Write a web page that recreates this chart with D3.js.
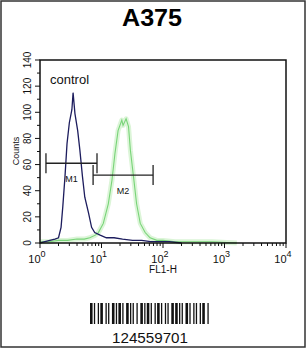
<!DOCTYPE html>
<html><head><meta charset="utf-8">
<script src="https://cdn.jsdelivr.net/npm/d3@7"></script>
<style>body{margin:0;background:#fff}svg{display:block}</style>
</head><body>
<svg id="c" width="306" height="349"></svg>
<script>
const title = "A375";
const yTicks = [0,20,40,60,80,100,120,140];
const xDecades = [1,10,100,1000,10000];
const xExps = ["0","1","2","3","4"];
const controlFL = [1.0,1.2,1.45,1.75,2.0,2.2,2.35,2.55,2.75,3.0,3.3,3.45,3.7,4.1,4.45,4.9,5.35,6.15,6.9,7.75,9.5,12,16,22,32,45,63,89,126,200];
const controlCounts = [0,1,2,3,4,12,28,51,76,92,102,115,99,86,71,51,35,23,12,8,6,4,4,3,2,2,1,1,1,0];
const sampleFL = [1.0,1.4,2.0,2.8,4.0,5.25,6.45,7.95,8.9,10.7,12.9,14.8,16.6,18.6,21.4,22.4,25.1,27.5,29.5,33.1,37.2,42.7,51.3,61.7,79.4,100,158,316,631,1585];
const sampleCounts = [1,1,2,2,3,3,4,6,8,15,30,48,69,86,94,90,95,89,71,51,30,15,8,4,2,2,1,1,1,0];
const markerNames = ["M1","M2"];
const markerLo = [1.25,7.3];
const markerHi = [8.45,69];
const markerLevel = [61,52];
const barcodeText = "124559701";
const barcodeWidths = [2,1,1,2,1,1,2,2,1,1,1,2,2,1,1,1,2,1,1,2,2,1,1,1,1,2,1,2,2,1,1,1,2,1,1,2,1,1,2,1,1,2,1,1,1,2,2,1,2,1,1,1,1,2,2,1,1,2,1,1,1,2,1,1,2,2,1,1];

const svg = d3.select("#c");
const L=40, R=286, T=60, B=243;
const x = d3.scaleLog().domain([1,10000]).range([L,R]);
const y = d3.scaleLinear().domain([0,140]).range([B,T]);
const F = "Liberation Sans, Arial, sans-serif";

svg.append("rect").attr("x",1).attr("y",1).attr("width",304).attr("height",346)
  .attr("fill","none").attr("stroke","#333").attr("stroke-width",1.5);

svg.append("text").attr("x",152).attr("y",26).attr("text-anchor","middle")
  .attr("font-family",F).attr("font-weight","bold")
  .attr("font-size",24).attr("textLength",60).attr("lengthAdjust","spacingAndGlyphs").text(title);

const line = d3.line().x(d=>x(d[0])).y(d=>y(d[1]));
const sData = sampleFL.map((v,i)=>[v,sampleCounts[i]]);
const cData = controlFL.map((v,i)=>[v,controlCounts[i]]);

svg.append("path").attr("d",line(sData)).attr("fill","none").attr("stroke","#dcf5d8").attr("stroke-width",5).attr("stroke-linejoin","round");
svg.append("path").attr("d",line(sData)).attr("fill","none").attr("stroke","#78d478").attr("stroke-width",1.1);
svg.append("path").attr("d",line(cData)).attr("fill","none").attr("stroke","#1d1d5e").attr("stroke-width",1.3);

markerNames.forEach((n,i)=>{
  const g = svg.append("g").attr("stroke","#222").attr("stroke-width",1.3);
  const yy = y(markerLevel[i]);
  const x0 = x(markerLo[i]), x1 = x(markerHi[i]);
  g.append("line").attr("x1",x0).attr("x2",x1).attr("y1",yy).attr("y2",yy);
  g.append("line").attr("x1",x0).attr("x2",x0).attr("y1",yy-10).attr("y2",yy+10);
  g.append("line").attr("x1",x1).attr("x2",x1).attr("y1",yy-10).attr("y2",yy+10);
  svg.append("text").attr("x",(x0+x1)/2).attr("y",yy+19).attr("text-anchor","middle")
    .attr("font-family",F).attr("font-size",9).attr("fill","#111").text(n);
});

svg.append("text").attr("x",50).attr("y",84).attr("font-family",F)
  .attr("font-size",13).attr("fill","#111").text("control");

svg.append("rect").attr("x",L).attr("y",T).attr("width",R-L).attr("height",B-T)
  .attr("fill","none").attr("stroke","#111").attr("stroke-width",1.5);

const yMinor = d3.range(0,141,10);
svg.append("g").selectAll("line").data(yMinor).join("line")
  .attr("x1",d=>yTicks.includes(d)?L-5:L-3).attr("x2",L).attr("y1",d=>y(d)).attr("y2",d=>y(d))
  .attr("stroke","#111").attr("stroke-width",1);
svg.append("g").selectAll("text").data(yTicks).join("text")
  .attr("transform",d=>`translate(31,${y(d)}) rotate(-90)`).attr("text-anchor","middle")
  .attr("font-family",F).attr("font-size",10).attr("fill","#111").text(d=>d);
svg.append("text").attr("transform","translate(19,151) rotate(-90)").attr("text-anchor","middle")
  .attr("font-family",F).attr("font-size",9).attr("fill","#111").text("Counts");

const xMinor = [];
xDecades.slice(0,4).forEach(d=>{for(let k=2;k<=9;k++) xMinor.push(d*k);});
svg.append("g").selectAll("line").data(xMinor).join("line")
  .attr("x1",d=>x(d)).attr("x2",d=>x(d)).attr("y1",B).attr("y2",B+3).attr("stroke","#111");
svg.append("g").selectAll("line").data(xDecades).join("line")
  .attr("x1",d=>x(d)).attr("x2",d=>x(d)).attr("y1",B).attr("y2",B+5).attr("stroke","#111");
const xl = svg.append("g").selectAll("text").data(xDecades).join("text")
  .attr("x",d=>x(d)-3).attr("y",263).attr("text-anchor","middle")
  .attr("font-family",F).attr("font-size",11).attr("fill","#111");
xl.append("tspan").text("10");
xl.append("tspan").attr("dy",-6).attr("font-size",9).text((d,i)=>xExps[i]);
svg.append("text").attr("x",163).attr("y",273).attr("text-anchor","middle")
  .attr("font-family",F).attr("font-size",10).attr("fill","#111").text("FL1-H");

const total = d3.sum(barcodeWidths);
const bx = d3.scaleLinear().domain([0,total]).range([90,210]);
let acc=0;
const bars=[];
barcodeWidths.forEach((w,i)=>{ if(i%2===0) bars.push([acc,w]); acc+=w; });
svg.append("g").selectAll("rect").data(bars).join("rect")
  .attr("x",d=>bx(d[0])).attr("width",d=>bx(d[1])-bx(0)).attr("y",303).attr("height",21).attr("fill","#111");
svg.append("text").attr("x",150).attr("y",343).attr("text-anchor","middle")
  .attr("font-family",F).attr("font-size",15)
  .attr("textLength",76).attr("lengthAdjust","spacingAndGlyphs").attr("fill","#111").text(barcodeText);
</script>
</body></html>
